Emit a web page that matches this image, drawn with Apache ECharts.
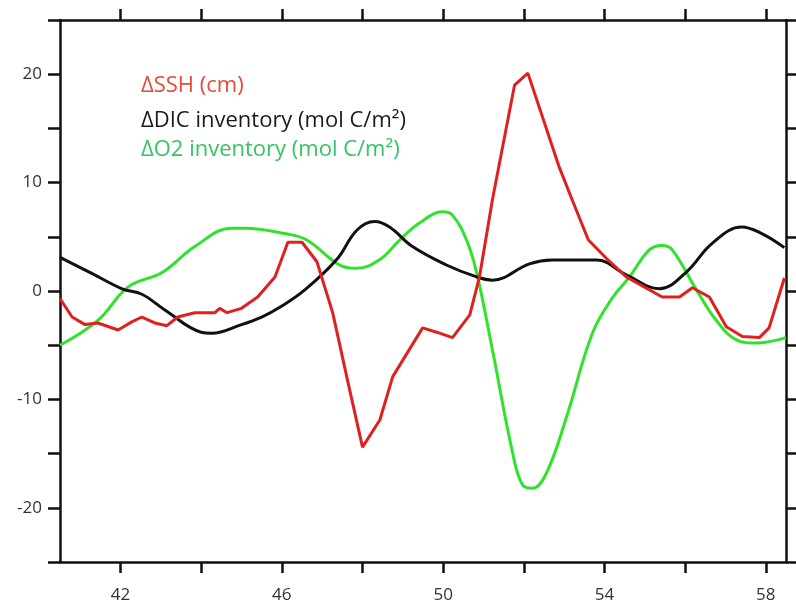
<!DOCTYPE html>
<html><head><meta charset="utf-8">
<script src="https://cdn.jsdelivr.net/npm/echarts@6/dist/echarts.min.js"></script>
<style>html,body{margin:0;padding:0;background:#fff}#c{width:796px;height:605px}</style>
</head><body><div id="c"></div>
<script>
// Data
const sshX = [40.5,40.8,41.12,41.44,41.94,42.28,42.53,42.85,43.15,43.42,43.84,44.34,44.46,44.64,45.0,45.4,45.83,46.15,46.5,46.87,47.26,47.68,48.0,48.43,48.75,49.49,49.84,50.23,50.66,50.9,51.22,51.77,52.1,52.88,53.2,53.6,54.05,54.54,55.43,55.86,56.18,56.6,57.02,57.42,57.84,58.08,58.46];
const sshY = [-0.7,-2.4,-3.1,-2.95,-3.6,-2.85,-2.4,-2.95,-3.2,-2.4,-2.0,-2.0,-1.6,-2.0,-1.6,-0.55,1.3,4.5,4.5,2.7,-2.0,-9.1,-14.4,-11.9,-7.9,-3.4,-3.8,-4.3,-2.2,1.3,8.4,19.0,20.1,11.4,8.4,4.7,3.0,1.3,-0.55,-0.55,0.3,-0.55,-3.3,-4.2,-4.3,-3.4,1.2];
const dicX = [40.5,41.3,42.04,42.53,43.1,44.0,44.26,45.0,45.5,45.95,46.57,47.36,47.86,48.3,48.67,49.24,50.08,50.83,51.22,52.14,52.7,53.8,54.54,55.36,56.03,56.67,57.4,57.9,58.46];
const dicY = [3.1,1.6,0.2,-0.3,-1.75,-3.8,-3.9,-3.1,-2.4,-1.5,0.1,2.9,5.6,6.4,5.9,4.1,2.4,1.3,1.0,2.5,2.85,2.85,1.5,0.2,1.75,4.4,5.9,5.3,4.0];
const o2X = [40.5,41.44,42.2,43.03,43.84,44.76,45.08,46.07,46.62,47.43,47.86,48.43,48.92,49.42,49.99,50.23,50.58,50.83,51.22,51.72,51.97,52.22,52.56,53.06,53.7,54.2,54.62,55.11,55.43,55.68,56.28,56.77,57.27,57.76,58.5];
const o2Y = [-5.0,-2.7,0.4,1.7,4.1,5.8,5.8,5.3,4.7,2.4,2.1,2.9,4.7,6.3,7.3,7.0,4.7,1.7,-5.4,-14.9,-17.9,-18.2,-16.8,-11.6,-3.9,-0.6,1.3,3.8,4.2,3.8,0.1,-2.7,-4.5,-4.8,-4.3];
const xTicks = [42,44,46,48,50,52,54,56,58];
const xLabels = [42,46,50,54,58];
const yLabels = [-20,-10,0,10,20];
const legendTexts = ['\u0394SSH (cm)','\u0394DIC inventory (mol C/m\u00b2)','\u0394O2 inventory (mol C/m\u00b2)'];

const zip = (a,b) => a.map((v,i)=>[v,b[i]]);
const font = 'Open Sans';
const axLine = {show:true, onZero:false, lineStyle:{color:'#111', width:2.5}};
const mk = (pos, labels) => ({
  type:'value', position:pos, min:40.5, max:58.5,
  axisLine:axLine,
  axisTick:{show:true, inside:false, length:11, customValues:xTicks, lineStyle:{color:'#111',width:2.5}},
  axisLabel: labels ? {show:true, customValues:xLabels, margin:25, color:'#333', fontFamily:font, fontSize:17} : {show:false},
  splitLine:{show:false}
});
const mky = (pos, labels) => ({
  type:'value', position:pos, min:-25, max:25, interval:5,
  axisLine:axLine,
  axisTick:{show:true, inside:false, length:12, lineStyle:{color:'#111',width:2.5}},
  axisLabel: labels ? {show:true, customValues:yLabels, margin:18, color:'#333', fontFamily:font, fontSize:17} : {show:false},
  splitLine:{show:false}
});
const chart = echarts.init(document.getElementById('c'));
chart.setOption({
  backgroundColor:'#fff',
  animation:false,
  grid:{left:60, top:20, right:10, bottom:43},
  xAxis:[mk('bottom',true), mk('top',false)],
  yAxis:[mky('left',true), mky('right',false)],
  series:[
    {type:'line', data:zip(dicX,dicY), smooth:0.4, symbol:'none', lineStyle:{color:'#111',width:3}, z:3},
    {type:'line', data:zip(o2X,o2Y), smooth:0.4, symbol:'none', lineStyle:{color:'#2fe22a',width:3}, z:2},
    {type:'line', data:zip(sshX,sshY), smooth:false, symbol:'none', lineStyle:{color:'#e0201f',width:3}, z:4}
  ],
  graphic:[
    {type:'text', x:141, y:86, style:{text:legendTexts[0], fill:'#e64a35', font:'22px "Open Sans"', verticalAlign:'middle'}},
    {type:'text', x:141, y:121, style:{text:legendTexts[1], fill:'#1a1a1a', font:'22px "Open Sans"', verticalAlign:'middle'}},
    {type:'text', x:141, y:150, style:{text:legendTexts[2], fill:'#35c463', font:'22px "Open Sans"', verticalAlign:'middle'}}
  ]
});
</script></body></html>
